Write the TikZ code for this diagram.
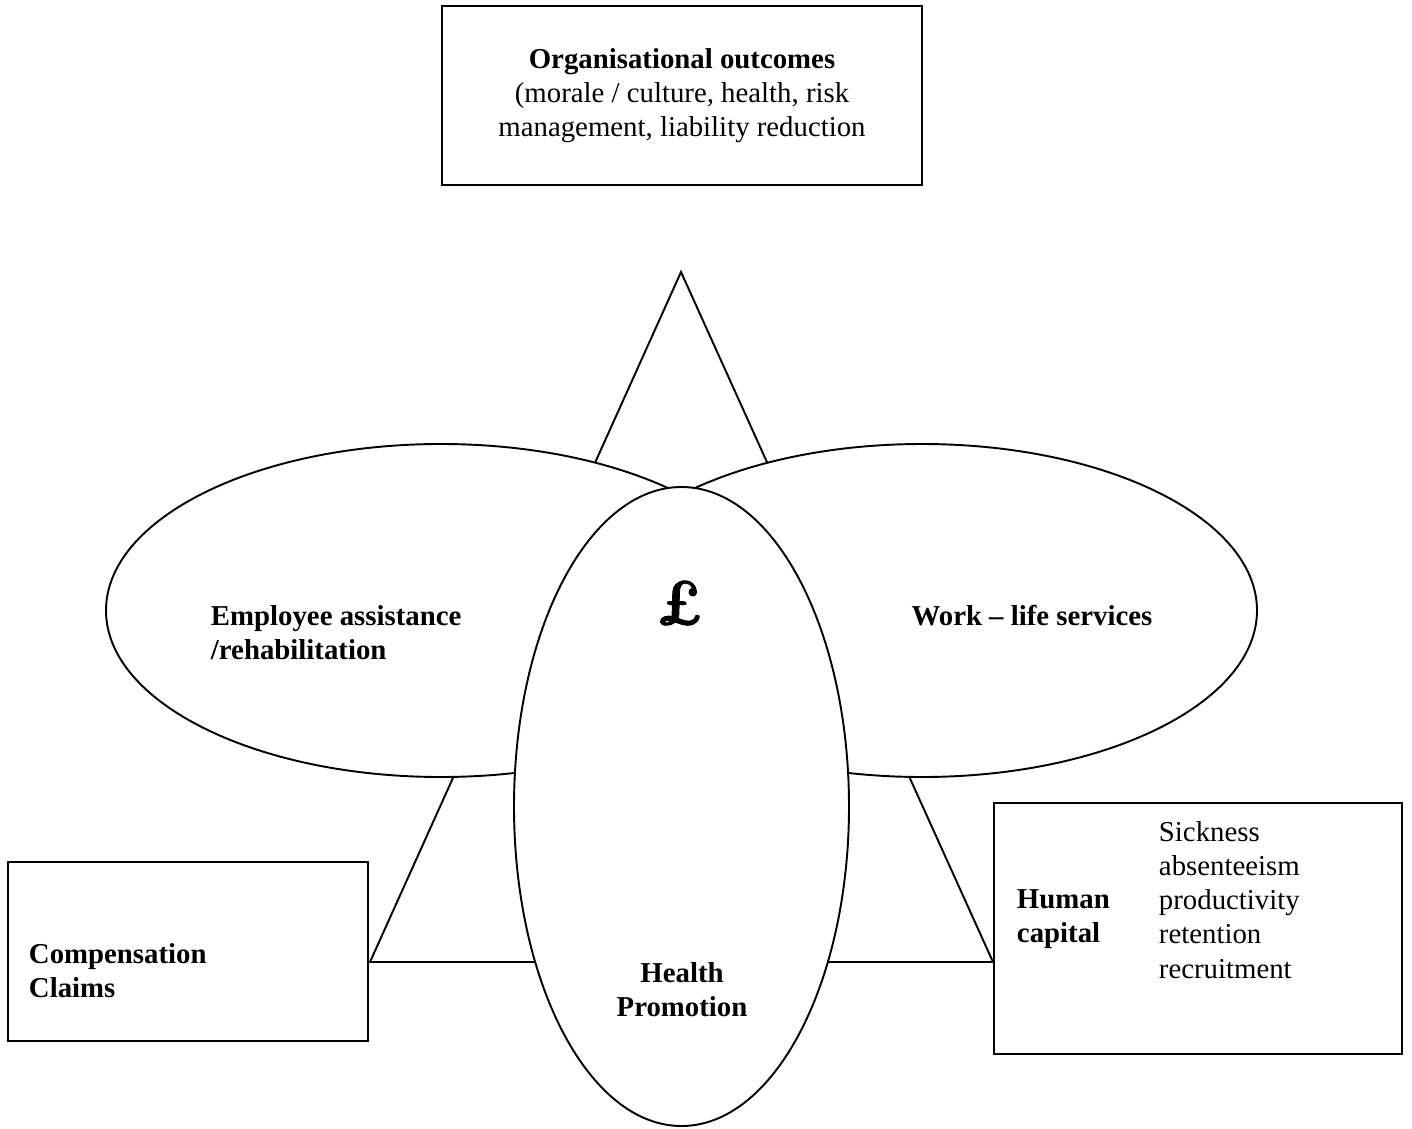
\documentclass[tikz,border=0pt]{standalone}
\usepackage{fontspec}
\setmainfont{Liberation Serif}
\newfontfamily\poundfont[Extension=.otf, FakeSlant=-0.22, FakeBold=1.5]{lmroman10-bolditalic}
\usetikzlibrary{shapes.geometric}
\begin{document}
\begin{tikzpicture}[x=0.41667pt,y=-0.41667pt, line width=0.8pt,
  every node/.style={font=\fontsize{12}{14.2}\selectfont},
  frame/.style={draw, rectangle, inner sep=0pt, align=center},
  oval/.style={draw, ellipse, fill=white, inner sep=0pt},
  plain text/.style={inner sep=0pt, align=left, anchor=west}]
\useasboundingbox (0,0) rectangle (1412,1128);

% central triangle, partly hidden by the three ovals
\coordinate (apex) at (681,272);
\coordinate (baseL) at (370,962);
\coordinate (baseR) at (993,962);
\draw[line join=miter] (baseL) -- (apex) -- (baseR) -- cycle;

% the three overlapping ovals
\node[oval, minimum width={670*0.41667pt}, minimum height={333*0.41667pt}] (eap) at (441,610.5) {};
\node[oval, minimum width={670*0.41667pt}, minimum height={333*0.41667pt}] (worklife) at (922,610.5) {};
\node[oval, minimum width={335*0.41667pt}, minimum height={639*0.41667pt}] (health) at (681.5,806.5) {};

% boxes
\node[frame, minimum width={480*0.41667pt}, minimum height={179*0.41667pt}] (outcomes) at (682,95.5)
  {\textbf{Organisational outcomes}\\(morale / culture, health, risk\\management, liability reduction};
\node[frame, minimum width={360*0.41667pt}, minimum height={179*0.41667pt}] (claims) at (188,951.5) {};
\node[frame, minimum width={408*0.41667pt}, minimum height={251*0.41667pt}] (capital) at (1198,928.5) {};

% labels
\node[plain text] (claimsText) at (28,970.5) {\textbf{Compensation}\\\textbf{Claims}};
\node[plain text] (capitalText) at (1016,919) {\textbf{Human}\\\textbf{capital}};
\node[plain text] (capitalList) at (1158,900) {Sickness\\absenteeism\\productivity\\retention\\recruitment};
\node[plain text] (eapText) at (210,633) {\textbf{Employee assistance}\\\textbf{/rehabilitation}};
\node (worklifeText) at (1032,616) {\textbf{Work – life services}};
\node[align=center] (healthText) at (682,990) {\textbf{Health}\\\textbf{Promotion}};
\node[font=\poundfont\fontsize{26}{26}\selectfont] (pound) at (682,603) {£};
\end{tikzpicture}
\end{document}
